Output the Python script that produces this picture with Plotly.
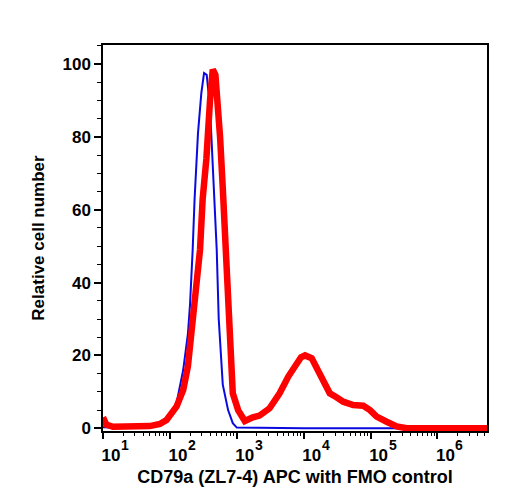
import math
import plotly.graph_objects as go

# FMO control (blue): fluorescence intensity vs relative cell number
fmo_x = [10, 20, 39.8, 63.1, 89.1, 112, 126, 158, 186, 200, 219, 234, 263, 295, 324,
         355, 398, 437, 501, 537, 617, 741, 871, 1000, 3162, 10000, 100000, 5495409]
fmo_y = [0.3, 0.2, 0.5, 1.0, 2.0, 4, 7, 16, 26, 34, 49, 63, 81, 92, 97.5,
         97, 88, 72, 49, 30, 12, 5, 1.4, 0.2, 0, 0, 0, 0]

# CD79a (ZL7-4) APC stained sample (red)
cd_x = [10, 11.2, 14.1, 31.6, 50.1, 70.8, 89.1, 126, 158, 186, 209, 234, 282, 309,
        351, 398, 437, 479, 550, 562, 617, 692, 776, 871, 1047, 1318, 1738, 2188,
        3090, 4365, 5888, 7762, 9120, 10470, 13183, 16218, 20417, 24547, 30903,
        38905, 54954, 77625, 97724, 123027, 173780, 245471, 346737, 5495409]
cd_y = [3, 1, 0.4, 0.4, 0.6, 1.2, 2.3, 6, 10.5, 17, 26, 35, 49, 63,
        74, 90, 98.5, 97, 85.5, 80, 66, 44, 21.5, 9.6, 5, 2.0, 3.0, 3.5,
        5.5, 9.6, 14.2, 17.8, 19.5, 20, 19.2, 16, 11.9, 9.6, 8.5,
        7.3, 6.4, 6.2, 5, 3.2, 1.8, 0.5, 0, 0]

x_tickvals = [10, 100, 1000, 10000, 100000, 1000000]
x_ticktext = ["10", "10", "10", "10", "10", "10"]
x_exponents = ["1", "2", "3", "4", "5", "6"]
y_tickvals = [0, 20, 40, 60, 80, 100]

x_minor = [m * d for d in x_tickvals for m in range(2, 10)]

fig = go.Figure()
fig.add_trace(go.Scatter(x=fmo_x, y=fmo_y, mode="lines",
                         line=dict(color="#0a0ae0", width=2), showlegend=False))
fig.add_trace(go.Scatter(x=cd_x, y=cd_y, mode="lines",
                         line=dict(color="#ff0000", width=6.5), showlegend=False))

font_family = "Liberation Sans, Arial, sans-serif"

# exponents of the power-of-ten tick labels, drawn as larger superscripts
for tv, ex in zip(x_tickvals, x_exponents):
    fig.add_annotation(x=math.log10(tv), xref="x", y=0, yref="paper",
                       text=ex, showarrow=False, xanchor="center", yanchor="top",
                       xshift=22, yshift=-4,
                       font=dict(family=font_family, size=14, weight="bold", color="black"))

fig.update_layout(
    width=508, height=500,
    margin=dict(l=103, r=21, t=45, b=69),
    plot_bgcolor="white", paper_bgcolor="white",
    font=dict(family=font_family, color="black"),
)
fig.update_xaxes(
    type="log", range=[1.0, 6.74],
    tickmode="array", tickvals=x_tickvals, ticktext=x_ticktext,
    ticks="outside", ticklen=6, tickwidth=1.5, tickcolor="black",
    minor=dict(tickmode="array", tickvals=x_minor, ticks="outside",
               ticklen=3, tickwidth=1, tickcolor="black"),
    showline=True, linecolor="black", linewidth=1.5, mirror=True,
    showgrid=False, zeroline=False,
    tickfont=dict(family=font_family, size=17, weight="bold"),
    ticklabelshift=8, ticklabelstandoff=2,
    title=dict(text="CD79a (ZL7-4) APC with FMO control",
               font=dict(family=font_family, size=18, weight="bold"), standoff=6),
)
fig.update_yaxes(
    range=[-0.74, 105.2],
    tickmode="array", tickvals=y_tickvals,
    ticks="outside", ticklen=7, tickwidth=1.5, tickcolor="black",
    minor=dict(dtick=5, ticks="outside", ticklen=4, tickwidth=1, tickcolor="black"),
    showline=True, linecolor="black", linewidth=1.5, mirror=True,
    showgrid=False, zeroline=False,
    tickfont=dict(family=font_family, size=17, weight="bold"),
    title=dict(text="Relative cell number",
               font=dict(family=font_family, size=17, weight="bold"), standoff=14),
)

fig.write_html("out.html")
